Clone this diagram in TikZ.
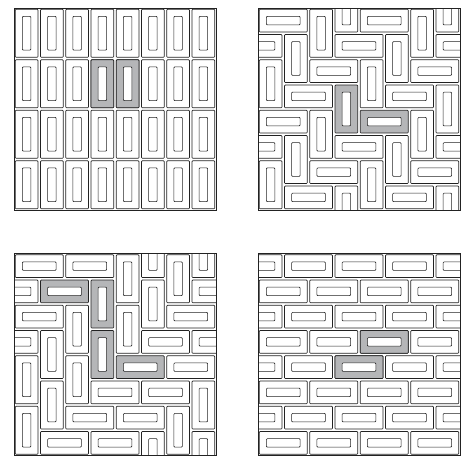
\documentclass[tikz,border=0pt]{standalone}
\definecolor{tilegray}{HTML}{B5B6B8}
\definecolor{tileline}{HTML}{222222}
\tikzset{
  domout/.style={draw=tileline, line width=0.6pt, rounded corners=0.8pt},
  dominn/.style={draw=tileline, line width=0.6pt, fill=white, rounded corners=1pt},
  frame/.style={draw=tileline, line width=0.7pt},
  panel/.style={x=25.25pt, y=-25.25pt}
}
\newcommand{\hdom}[3][white]{%
  \draw[domout, fill=#1] (#2+0.05,#3+0.05) rectangle (#2+1.95,#3+0.95);
  \draw[dominn] (#2+0.33,#3+0.33) rectangle (#2+1.67,#3+0.67);}
\newcommand{\vdom}[3][white]{%
  \draw[domout, fill=#1] (#2+0.05,#3+0.05) rectangle (#2+0.95,#3+1.95);
  \draw[dominn] (#2+0.33,#3+0.33) rectangle (#2+0.67,#3+1.67);}
\begin{document}
\begin{tikzpicture}
\useasboundingbox (0,0) rectangle (466pt,-456pt);
% panel 1: columns
\begin{scope}[xshift=14pt, yshift=-8pt, panel]
  \begin{scope}
    \clip (0,0) rectangle (8,8);
    \foreach \c in {0,...,7}{\foreach \r in {0,2,4,6}{\vdom{\c}{\r}}}
    \vdom[tilegray]{3}{2}
    \vdom[tilegray]{4}{2}
  \end{scope}
  \draw[frame] (0,0) rectangle (8,8);
\end{scope}
% panel 2: herringbone
\begin{scope}[xshift=258pt, yshift=-8pt, panel]
  \begin{scope}
    \clip (0,0) rectangle (8,8);
    \hdom{0}{0} \vdom{2}{0} \vdom{3}{-1} \hdom{4}{0} \vdom{6}{0} \vdom{7}{-1}
    \hdom{-1}{1} \vdom{1}{1} \hdom{3}{1} \vdom{5}{1} \hdom{7}{1}
    \vdom{0}{2} \hdom{2}{2} \vdom{4}{2} \hdom{6}{2}
    \hdom{1}{3} \vdom[tilegray]{3}{3} \hdom{5}{3} \vdom{7}{3}
    \hdom{0}{4} \vdom{2}{4} \hdom[tilegray]{4}{4} \vdom{6}{4}
    \hdom{-1}{5} \vdom{1}{5} \hdom{3}{5} \vdom{5}{5} \hdom{7}{5}
    \vdom{0}{6} \hdom{2}{6} \vdom{4}{6} \hdom{6}{6}
    \hdom{1}{7} \vdom{3}{7} \hdom{5}{7} \vdom{7}{7}
  \end{scope}
  \draw[frame] (0,0) rectangle (8,8);
\end{scope}
% panel 3: mixed
\begin{scope}[xshift=14pt, yshift=-253.5pt, panel]
  \begin{scope}
    \clip (0,0) rectangle (8,8);
    \hdom{0}{0} \hdom{2}{0} \vdom{4}{0} \vdom{5}{-1} \vdom{6}{0} \vdom{7}{-1}
    \hdom{-1}{1} \hdom[tilegray]{1}{1} \vdom[tilegray]{3}{1} \vdom{5}{1} \hdom{7}{1}
    \hdom{0}{2} \vdom{2}{2} \vdom{4}{2} \hdom{6}{2}
    \hdom{-1}{3} \vdom{1}{3} \vdom[tilegray]{3}{3} \hdom{5}{3} \hdom{7}{3}
    \vdom{0}{4} \vdom{2}{4} \hdom[tilegray]{4}{4} \hdom{6}{4}
    \vdom{1}{5} \hdom{3}{5} \hdom{5}{5} \vdom{7}{5}
    \vdom{0}{6} \hdom{2}{6} \hdom{4}{6} \vdom{6}{6}
    \hdom{1}{7} \hdom{3}{7} \vdom{5}{7} \vdom{7}{7}
  \end{scope}
  \draw[frame] (0,0) rectangle (8,8);
\end{scope}
% panel 4: bricks
\begin{scope}[xshift=258pt, yshift=-253.5pt, panel]
  \begin{scope}
    \clip (0,0) rectangle (8,8);
    \foreach \r in {0,2,4,6}{\foreach \c in {-1,1,3,5,7}{\hdom{\c}{\r}}}
    \foreach \r in {1,3,5,7}{\foreach \c in {0,2,4,6}{\hdom{\c}{\r}}}
    \hdom[tilegray]{4}{3}
    \hdom[tilegray]{3}{4}
  \end{scope}
  \draw[frame] (0,0) rectangle (8,8);
\end{scope}
\end{tikzpicture}
\end{document}
